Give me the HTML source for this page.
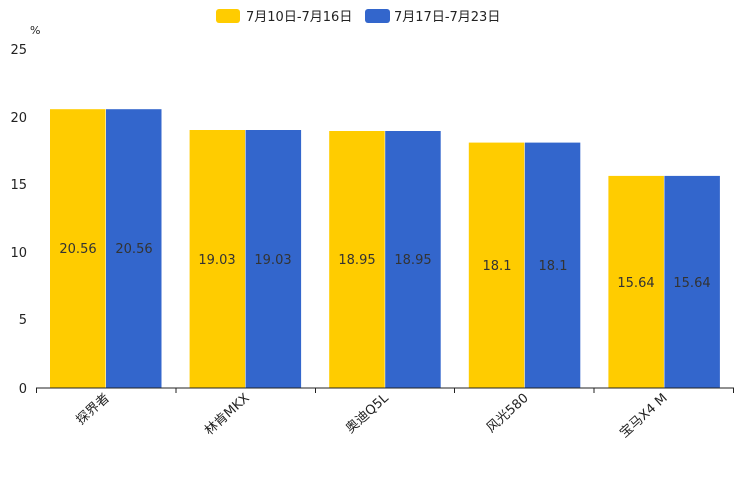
<!DOCTYPE html>
<html><head><meta charset="utf-8"><style>
html,body{margin:0;padding:0;background:#fff;}
svg{display:block;font-family:"DejaVu Sans","Liberation Sans","Noto Sans CJK SC",sans-serif;}
</style></head><body>
<svg width="744" height="496" viewBox="0 0 744 496" xmlns="http://www.w3.org/2000/svg">
<rect x="216" y="9" width="24" height="14" rx="3" fill="#ffcc00"/>
<text x="246" y="21" font-size="13" fill="#222">7月10日-7月16日</text>
<rect x="365" y="9" width="25" height="14" rx="3" fill="#3366cc"/>
<text x="394" y="21" font-size="13" fill="#222">7月17日-7月23日</text>
<text x="30" y="34" font-size="11" fill="#222">%</text>
<g font-size="13" fill="#222" text-anchor="end">
<text x="27" y="54">25</text>
<text x="27" y="122">20</text>
<text x="27" y="189">15</text>
<text x="27" y="257">10</text>
<text x="27" y="324">5</text>
<text x="27" y="393">0</text>
</g>
<g id="bars">
<rect x="50" y="109.2" width="55.5" height="278.8" fill="#ffcc00"/>
<rect x="106" y="109.2" width="55.5" height="278.8" fill="#3366cc"/>
<rect x="189.6" y="130" width="55.5" height="258" fill="#ffcc00"/>
<rect x="245.6" y="130" width="55.5" height="258" fill="#3366cc"/>
<rect x="329.2" y="131" width="55.5" height="257" fill="#ffcc00"/>
<rect x="385.2" y="131" width="55.5" height="257" fill="#3366cc"/>
<rect x="468.8" y="142.6" width="55.5" height="245.4" fill="#ffcc00"/>
<rect x="524.8" y="142.6" width="55.5" height="245.4" fill="#3366cc"/>
<rect x="608.4" y="175.9" width="55.5" height="212.1" fill="#ffcc00"/>
<rect x="664.4" y="175.9" width="55.5" height="212.1" fill="#3366cc"/>
</g>
<g font-size="13" fill="#333" text-anchor="middle">
<text x="78" y="253">20.56</text><text x="134" y="253">20.56</text>
<text x="217" y="264">19.03</text><text x="273" y="264">19.03</text>
<text x="357" y="264">18.95</text><text x="413" y="264">18.95</text>
<text x="497" y="270">18.1</text><text x="553" y="270">18.1</text>
<text x="636" y="287">15.64</text><text x="692" y="287">15.64</text>
</g>
<line x1="36" y1="388" x2="734" y2="388" stroke="#222" stroke-width="1"/>
<g stroke="#222" stroke-width="1">
<line x1="36.5" y1="388" x2="36.5" y2="393"/>
<line x1="176" y1="388" x2="176" y2="393"/>
<line x1="315.5" y1="388" x2="315.5" y2="393"/>
<line x1="454.5" y1="388" x2="454.5" y2="393"/>
<line x1="594" y1="388" x2="594" y2="393"/>
<line x1="733.5" y1="388" x2="733.5" y2="393"/>
</g>
<g font-size="13" fill="#222" text-anchor="end">
<text transform="translate(110,399) rotate(-42)">探界者</text>
<text transform="translate(250,399) rotate(-42)">林肯MKX</text>
<text transform="translate(389,399) rotate(-42)">奥迪Q5L</text>
<text transform="translate(529,399) rotate(-42)">风光580</text>
<text transform="translate(668,399) rotate(-42)">宝马X4 M</text>
</g>
</svg>
</body></html>
